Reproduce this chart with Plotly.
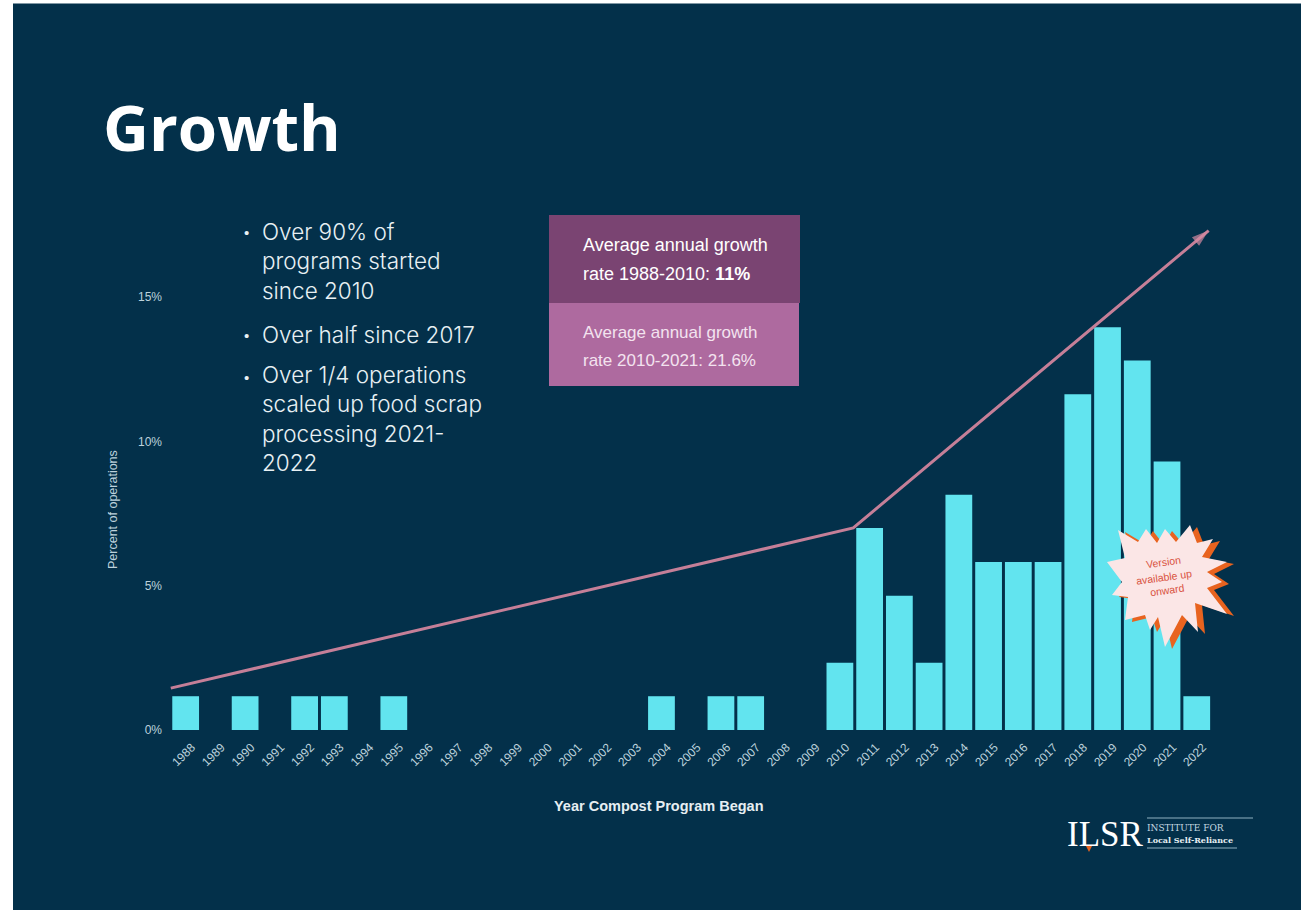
import plotly.graph_objects as go

W, H = 1301, 912

# Share of operations by year the compost program began
years = list(range(1988, 2023))
percent = [1.17, 0, 1.17, 0, 1.17, 1.17, 0, 1.17, 0, 0, 0, 0, 0, 0, 0, 0,
           1.17, 0, 1.17, 1.17, 0, 0, 2.33, 7.0, 4.65, 2.33, 8.15, 5.82,
           5.82, 5.82, 11.63, 13.95, 12.8, 9.3, 1.17]
y_ticks = [0, 5, 10, 15]
y_tick_labels = ["0%", "5%", "10%", "15%"]

# Growth trend drawn across the bars
trend_years = [1987.5, 2010.45, 2022.4]
trend_pct = [1.45, 7.0, 17.3]

# Each paragraph with the page height of its middle line and of its bullet
bullet_paragraphs = [
    (["Over 90% of", "programs started", "since 2010"], 261, 232),
    (["Over half since 2017"], 334, 334),
    (["Over 1/4 operations", "scaled up food scrap", "processing 2021-", "2022"], 419, 376),
]

BG = "#03304a"
BAR = "#62e4ef"
TICK = "#bdd2dc"
SANS = "Liberation Sans, sans-serif"
HEAD = "Open Sans, sans-serif"
BODY = "Inter, sans-serif"
LOGO = "DejaVu Serif, serif"


def px(x):
    return x / W


def py(y):
    return 1 - y / H


# Burst outline in page pixels, alternating tips and notches
burst_x = [1118, 1138, 1146, 1157, 1165, 1176, 1190, 1197, 1213, 1202, 1227, 1207, 1222, 1207,
           1227, 1195, 1198, 1182, 1165, 1158, 1150, 1145, 1125, 1128, 1112, 1122, 1107, 1125]
burst_y = [530, 542, 529, 543, 529, 542, 525, 543, 539, 557, 562, 572, 582, 588,
           614, 603, 632, 615, 647, 617, 630, 615, 620, 597, 595, 582, 562, 558]


def polygon(xs, ys):
    pts = [f"{px(a):.5f},{py(b):.5f}" for a, b in zip(xs, ys)]
    return "M " + " L ".join(pts) + " Z"


fig = go.Figure()
fig.add_bar(x=years, y=percent, marker=dict(color=BAR, line=dict(width=0)), width=0.9)
fig.add_scatter(
    x=trend_years, y=trend_pct, mode="lines+markers",
    line=dict(color="#c57f98", width=3),
    marker=dict(symbol=["circle", "circle", "arrow"], size=[0, 0, 18],
                angleref="previous", color="#d48aa3", line=dict(width=0)),
)

shapes = [
    dict(type="rect", xref="paper", yref="paper", x0=px(13), x1=1, y0=py(910), y1=py(3.5),
         fillcolor=BG, line=dict(width=0), layer="below"),
    dict(type="rect", xref="paper", yref="paper", x0=px(549), x1=px(800), y0=py(303), y1=py(215),
         fillcolor="#7a4472", line=dict(width=0), layer="above"),
    dict(type="rect", xref="paper", yref="paper", x0=px(549), x1=px(799), y0=py(386), y1=py(303),
         fillcolor="#ae6a9f", line=dict(width=0), layer="above"),
    dict(type="path", xref="paper", yref="paper",
         path=polygon([a + 7 for a in burst_x], [b + 2 for b in burst_y]),
         fillcolor="#e8631f", line=dict(width=0), layer="above"),
    dict(type="path", xref="paper", yref="paper", path=polygon(burst_x, burst_y),
         fillcolor="#fbe6e6", line=dict(width=0), layer="above"),
    # Logo rules and the small marker under the L
    dict(type="line", xref="paper", yref="paper", x0=px(1147), x1=px(1253), y0=py(818), y1=py(818),
         line=dict(color="#8fb0c0", width=1), layer="above"),
    dict(type="line", xref="paper", yref="paper", x0=px(1147), x1=px(1237), y0=py(848), y1=py(848),
         line=dict(color="#8fb0c0", width=1), layer="above"),
    dict(type="path", xref="paper", yref="paper",
         path=polygon([1086, 1092, 1089], [846, 846, 852]),
         fillcolor="#e8631f", line=dict(width=0), layer="above"),
]


def note(text, x, y, size, color="white", font=SANS, anchor="left", angle=0, weight=None):
    f = dict(size=size, color=color, family=font)
    if weight:
        f["weight"] = weight
    # Annotation boxes carry about 2px of padding on the anchored side
    x_pos = x - 2 if anchor == "left" else x
    return dict(text=text, x=px(x_pos), y=py(y), xref="paper", yref="paper", showarrow=False,
                xanchor=anchor, yanchor="middle", align="left" if anchor == "left" else "center",
                textangle=angle, font=f)


annotations = [
    note("Growth", 103, 127, 63.5, font=HEAD, weight=700),
    note("Average annual growth", 583, 245, 18),
    note("rate 1988-2010: <b>11%</b>", 583, 274, 18),
    note("Average annual growth", 583, 332, 17, color="#f3e3ef"),
    note("rate 2010-2021: 21.6%", 583, 360, 17, color="#f3e3ef"),
    note("Percent of operations", 113, 510, 12.5, color=TICK, anchor="center", angle=-90),
    note("<b>Year Compost Program Began</b>", 659, 806, 14.5, color="#e6eef2", anchor="center"),
    note("Version", 1163, 562, 10.5, color="#d9533f", anchor="center", angle=-8),
    note("available up", 1164, 577, 10.5, color="#d9533f", anchor="center", angle=-8),
    note("onward", 1167, 590, 10.5, color="#d9533f", anchor="center", angle=-8),
    note("ILSR", 1067, 834, 35, font="Liberation Serif, serif"),
    note("INSTITUTE FOR", 1147, 828, 9, color="#c4d8e0", font=LOGO),
    note("<b>Local Self-Reliance</b>", 1147, 840, 8, color="#e6eef2", font=LOGO),
]
for lines, mid_y, bullet_y in bullet_paragraphs:
    annotations.append(note("<br>".join(lines), 262, mid_y, 22.5, color="#e8f0f4", font=BODY, weight=300))
    annotations.append(note("•", 244, bullet_y + 1, 15, color="#e8f0f4"))

# 0% sits at y=730px and 5% spans about 144.3px
y_top = (730 - 200) / 28.87
fig.update_layout(
    width=W, height=H, margin=dict(l=0, r=0, t=0, b=0, autoexpand=False), autosize=False,
    paper_bgcolor="white", plot_bgcolor="rgba(0,0,0,0)", showlegend=False,
    shapes=shapes, annotations=annotations, bargap=0.1,
    xaxis=dict(domain=[px(169), px(1214)], range=[1987.44, 2022.58], tickmode="array",
               tickvals=years, ticktext=[str(v) for v in years], tickangle=-45,
               showgrid=False, zeroline=False, showline=False, ticks="",
               ticklabelstandoff=7, ticklabelshift=6,
               tickfont=dict(size=12, color=TICK, family=SANS)),
    yaxis=dict(domain=[py(730), py(200)], range=[0, y_top], tickmode="array",
               tickvals=y_ticks, ticktext=y_tick_labels, showgrid=False, zeroline=False,
               showline=False, ticks="", ticklabelstandoff=6,
               tickfont=dict(size=12, color=TICK, family=SANS)),
)

fig.write_html("out.html", config=dict(displayModeBar=False))
